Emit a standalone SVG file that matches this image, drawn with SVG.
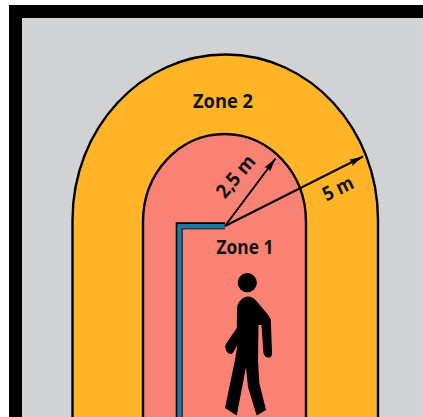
<svg xmlns="http://www.w3.org/2000/svg" width="423" height="417" viewBox="0 0 423 417">
<style>
.zone{stroke:#000;stroke-width:2.4}
.lbl{font-family:"Open Sans","Noto Sans",sans-serif;font-weight:700;fill:#111;font-size:19.500px}
.arrow{stroke:#000;stroke-width:2;fill:none;marker-end:url(#ah)}
</style>
<defs>
<marker id="ah" markerUnits="userSpaceOnUse" markerWidth="15" markerHeight="10" refX="14" refY="4" orient="auto"><path d="M0 0.500L14 4L0 7.500L2.500 4Z" fill="#000"/></marker>
</defs>
<rect width="423" height="417" fill="#fff"/>
<g id="frame"><rect x="9" y="5" width="414" height="412" fill="#000"/><rect x="22" y="18" width="401" height="399" fill="#d1d2d4"/></g>
<g id="zone2"><path class="zone" fill="#ffb527" d="M72.500 425V220C72.500 128.600 141 54.500 225.500 54.500S378 128.600 378 220V425Z"/><text class="lbl" x="193" y="108" textLength="60" lengthAdjust="spacingAndGlyphs">Zone 2</text></g>
<g id="zone1"><path class="zone" fill="#f98275" d="M143 425V222C143 173.400 179 134 224.500 134S306 173.400 306 222V425Z"/><text class="lbl" x="216.500" y="254" textLength="57" lengthAdjust="spacingAndGlyphs">Zone 1</text></g>
<g id="wall"><path d="M225 225.800H179.200V425" fill="none" stroke="#000" stroke-width="7"/><path d="M225 226.300H179.500V425" fill="none" stroke="#1f78a4" stroke-width="4.400"/></g>
<g id="person">
<circle cx="247.300" cy="282.700" r="9.600" fill="#000"/>
<path fill="#000" d="M248 296.500C243 296.500 237 302 237 309L236.800 328L226.500 343C224.500 346 225 349 227 352C230 355 232 354 233.500 352L237.300 345L235 360L225 408L236.700 415.500L246 367L248 387L256.700 415.500L266 410L259.300 383L258 360L258.500 325L261.500 325L263.300 352C264 357 268 358 270 357.500C271.500 357 272 355 272 352L270.800 320C270 318 269 316 267 313.500L256 300.500C253 297.500 251 296.500 248 296.500Z"/>
</g>
<g id="connectors">
<path class="arrow" d="M225 226L275.500 158.500"/>
<path class="arrow" d="M225 226L363 156.500"/>
</g>
<g id="labels">
<text class="lbl" transform="translate(225 199.500) rotate(-50)" textLength="49" lengthAdjust="spacingAndGlyphs">2,5 m</text>
<text class="lbl" transform="translate(326.500 201.500) rotate(-26)" textLength="32" lengthAdjust="spacingAndGlyphs">5 m</text>
</g>
</svg>
